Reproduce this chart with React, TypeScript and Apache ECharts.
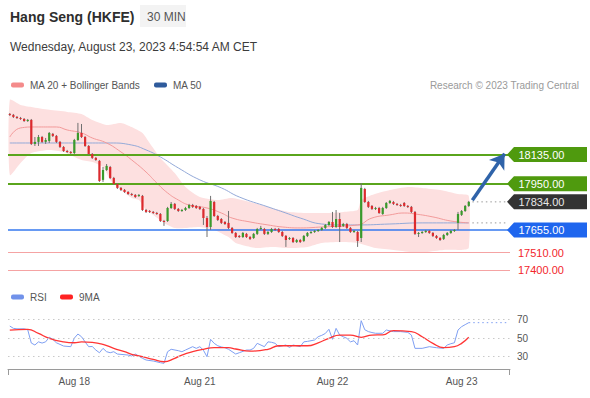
import React, { useEffect, useRef } from 'react';
import * as echarts from 'echarts';

const FONT = "'Liberation Sans', Arial, sans-serif";

// ---- x slots (30-minute bars) ----
const slotCount = 140;
const dayLabelIdx = [18, 53, 90, 126];
const dayLabelText = ['Aug 18', 'Aug 21', 'Aug 22', 'Aug 23'];

// ---- candles ----
const opens = [18394,18388,18375,18368,18362,18349,18356,18203,18216,18247,18216,18222,18267,18254,18216,18184,18158,18152,18145,18228,18273,18247,18190,18139,18114,18095,17974,18037,18056,17986,17948,17923,17910,17897,17884,17878,17872,17872,17782,17776,17770,17763,17757,17712,17712,17795,17821,17789,17776,17782,17795,17814,17808,17802,17789,17731,17674,17833,17744,17725,17706,17700,17668,17636,17617,17610,17630,17610,17604,17630,17661,17661,17630,17642,17661,17661,17642,17617,17598,17604,17578,17591,17585,17617,17636,17642,17649,17655,17668,17687,17706,17674,17725,17681,17693,17668,17642,17642,17604,17916,17833,17808,17789,17795,17757,17795,17827,17833,17821,17814,17827,17808,17802,17770,17630,17636,17642,17649,17636,17617,17604,17598,17623,17636,17649,17700,17751,17776,17808];
const closes = [18388,18375,18368,18362,18349,18356,18203,18216,18247,18216,18228,18273,18254,18216,18184,18158,18152,18145,18228,18273,18247,18190,18139,18114,18101,17967,18037,18063,17986,17948,17923,17910,17897,17884,17878,17865,17878,17782,17770,17770,17763,17757,17712,17706,17795,17821,17789,17776,17782,17795,17814,17802,17795,17789,17731,17674,17840,17744,17719,17700,17693,17668,17636,17610,17610,17636,17610,17598,17630,17661,17668,17630,17642,17661,17655,17642,17617,17591,17604,17578,17591,17578,17617,17636,17642,17649,17655,17668,17687,17706,17674,17725,17674,17693,17668,17642,17649,17585,17923,17833,17802,17789,17795,17763,17795,17827,17840,17821,17814,17808,17808,17802,17770,17630,17636,17642,17649,17636,17617,17604,17591,17623,17636,17649,17655,17757,17776,17808,17834];
const highs = [18400,18394,18381,18375,18368,18362,18362,18247,18260,18254,18241,18279,18273,18260,18222,18190,18165,18158,18235,18337,18330,18254,18196,18145,18120,18101,18056,18075,18063,17993,17954,17929,17916,17903,17891,17884,17884,17878,17789,17782,17776,17770,17763,17719,17802,17833,17827,17795,17789,17802,17821,17821,17814,17808,17795,17744,17872,17840,17751,17731,17712,17776,17674,17642,17623,17642,17636,17617,17636,17668,17681,17668,17649,17668,17668,17668,17649,17623,17610,17610,17598,17598,17623,17642,17649,17655,17661,17674,17693,17712,17770,17782,17763,17700,17700,17674,17655,17649,17954,17923,17840,17814,17802,17802,17802,17833,17846,17840,17827,17821,17833,17814,17808,17776,17642,17649,17655,17655,17642,17623,17610,17630,17642,17655,17661,17770,17782,17814,17840];
const lows = [18381,18368,18362,18356,18343,18343,18196,18190,18190,18209,18203,18209,18247,18209,18177,18152,18145,18139,18139,18222,18241,18184,18133,18107,18095,17961,17961,18031,17980,17942,17916,17903,17891,17878,17872,17859,17865,17776,17763,17763,17757,17751,17706,17681,17706,17789,17782,17770,17770,17776,17789,17795,17789,17782,17687,17610,17655,17738,17712,17693,17687,17661,17630,17604,17604,17604,17604,17591,17598,17623,17655,17623,17623,17636,17649,17636,17610,17547,17591,17572,17572,17572,17578,17610,17630,17636,17642,17649,17661,17681,17668,17668,17578,17674,17661,17636,17636,17547,17578,17827,17795,17782,17782,17757,17751,17789,17821,17814,17808,17802,17802,17795,17763,17623,17610,17630,17636,17630,17610,17598,17585,17591,17617,17630,17642,17655,17744,17770,17802];

// ---- moving averages (read at sample bars) ----
const ma20Idx = [0,3,7,13,16,20,23,27,31,34,38,41,44,47,50,55,59,62,67,72,76,81,87,97,101,106,110,113,118,123,128];
const ma20Val = [18247,18305,18311,18311,18292,18273,18241,18209,18152,18101,18024,17954,17891,17846,17814,17795,17763,17731,17706,17687,17674,17668,17674,17687,17731,17751,17763,17757,17738,17712,17700];
const ma50Idx = [0,14,28,34,38,42,47,53,59,64,72,77,81,87,92,97,106,115,125,128];
const ma50Val = [18209,18209,18209,18196,18165,18120,18050,17974,17923,17865,17802,17763,17731,17693,17687,17687,17693,17700,17700,17700];

// ---- Bollinger bands ----
const bbUpIdx = [0,3,6,11,16,20,23,27,31,34,37,39,42,46,49,53,58,62,68,73,78,83,88,93,97,98,101,106,111,115,120,125,128];
const bbUpVal = [18483,18451,18438,18420,18407,18394,18356,18324,18337,18311,18273,18209,18114,18018,17929,17865,17846,17859,17827,17795,17770,17763,17763,17770,17782,17846,17878,17910,17929,17923,17910,17884,17872];
const bbLoIdx = [0,3,6,11,15,20,23,26,28,31,34,36,38,40,43,46,49,53,57,61,63,67,69,73,78,83,87,92,97,102,107,112,116,121,126,128];
const bbLoVal = [18005,18082,18145,18165,18152,18101,18088,18056,17974,17910,17859,17846,17782,17751,17700,17668,17668,17674,17655,17610,17572,17547,17540,17547,17540,17547,17572,17578,17572,17540,17528,17515,17515,17528,17528,17540];

// ---- levels ----
const levelPrices = [18135, 17950, 17834, 17655, 17510, 17400];
const levelKinds = ['green', 'green', 'last', 'blue', 'red', 'red'];
const arrowFrom = [129, 17845];
const arrowTo = [138, 18140];

// ---- RSI ----
const rsiIdx = [0,1,2,4,5,6,7,8,9,10,11,12,13,15,17,18,19,20,21,22,23,24,25,26,27,28,29,30,33,34,35,37,38,40,42,43,44,45,47,48,49,51,52,53,54,55,56,57,58,59,60,61,63,64,66,67,68,69,71,72,73,74,75,77,78,79,81,82,83,84,85,86,87,88,89,90,91,92,93,94,95,96,97,98,99,100,101,102,104,105,107,109,111,112,113,115,117,119,121,122,123,124,125,126,127,128];
const rsiVal = [63,60.5,60,60,59,44.7,42.6,46,44.7,46,51,48.7,45,41.5,40.8,50,54.4,51.5,46,40.8,41,37.2,34.3,39,35.4,34.3,35.4,32.9,31.8,30.8,32.9,28.3,26.5,25.4,23.6,22.9,35.4,38,36.5,35.4,37.2,40.8,39,40.8,37,30,48.7,44.4,41.8,40.5,39.7,38,32.9,34.3,37.2,37.2,39,44.4,40.8,46,45.5,44.4,40.8,42.6,40,42.6,40.8,46,46.5,47.2,48,51.5,53,55,59.5,48.7,60.5,53.3,51.5,49.8,46,47.2,42.6,68.7,59,57,56,55.2,55.2,58.7,57,57,56.2,53.3,39,39,40.8,39.7,39,42.6,44,45,58.7,62.3,64.5,66.6];
const rsiMaIdx = [0,5,8,11,15,18,20,23,26,29,32,34,37,40,43,46,48,51,54,57,61,63,67,72,75,79,83,86,89,92,95,98,101,104,107,112,115,118,121,124,126,128];
const rsiMaVal = [58.7,59.5,55,49.8,46,45,46,45.5,43.3,39,35.4,32.6,30,27.2,24.6,28.3,31.8,35.4,38,39.7,39.7,38.3,36,38,41.8,41.8,41.8,45,49.8,53.3,53.3,50.9,53.3,53.5,58,57,51.5,44.4,39.7,40.8,44.4,50.9];
const rsiLevels = [70, 50, 30];

const GREEN = '#3a9a2c';
const RED = '#dc2a2e';

function pairs(idx: number[], val: number[]) {
  return idx.map((x, k) => [x, val[k]]);
}

function buildOption(): any {
  const categories = Array.from({ length: slotCount }, (_, i) => String(i));
  const candleData = opens.map((o, i) => [i, o, closes[i], lows[i], highs[i]]);
  const last = candleData.length - 1;
  const lastMa = ma50Val[ma50Val.length - 1];
  const lastRsi = rsiVal[rsiVal.length - 1];

  const tagColors: Record<string, [string, string]> = {
    green: ['#4f9a0e', '#ffffff'],
    last: ['#333333', '#e8e8e8'],
    blue: ['#1f66ee', '#ffffff'],
  };
  const lineColors: Record<string, [string, number]> = {
    green: ['#5aa51c', 2],
    blue: ['#3478ef', 1.5],
    red: ['#f5a3a3', 1],
  };

  const legendText = (x: number, y: number, text: string, fill: string, extra: any = {}) => ({
    type: 'text', x, y,
    style: { text, fill, fontSize: 10, fontFamily: FONT, verticalAlign: 'middle', ...extra },
  });
  const swatch = (x: number, y: number, fill: string) => ({
    type: 'rect', shape: { x, y: y - 2.5, width: 13, height: 5, r: 2 }, style: { fill },
  });

  return {
    animation: false,
    backgroundColor: '#ffffff',
    textStyle: { fontFamily: FONT },
    grid: [
      { left: 8, right: 80, top: 97.3, height: 188.4 },
      { left: 8, right: 80, top: 310.2, height: 59.1 },
    ],
    xAxis: [
      { type: 'category', gridIndex: 0, data: categories, show: false },
      {
        type: 'category', gridIndex: 1, data: categories,
        axisLine: { lineStyle: { color: '#9a9a9a', width: 1 } },
        axisTick: { show: false },
        axisLabel: {
          color: '#555', fontSize: 10, fontFamily: FONT, margin: 7,
          interval: (i: number) => dayLabelIdx.includes(i),
          formatter: (_v: string, i: number) => {
            const k = dayLabelIdx.indexOf(i);
            return k >= 0 ? dayLabelText[k] : '';
          },
        },
      },
    ],
    yAxis: [
      { type: 'value', gridIndex: 0, min: 17300, max: 18500, show: false, splitLine: { show: false } },
      { type: 'value', gridIndex: 1, min: 16.5, max: 80, show: false, splitLine: { show: false } },
    ],
    graphic: [
      { type: 'text', x: 10, y: 17, style: { text: 'Hang Seng (HKFE)', fill: '#2e2e2e', fontSize: 14, fontWeight: 'bold', fontFamily: FONT, verticalAlign: 'middle' } },
      { type: 'rect', shape: { x: 140, y: 5, width: 46, height: 22 }, style: { fill: '#f3f3f3' } },
      { type: 'text', x: 147, y: 16.5, style: { text: '30 MIN', fill: '#555', fontSize: 12, fontFamily: FONT, verticalAlign: 'middle' } },
      { type: 'text', x: 10, y: 46.5, style: { text: 'Wednesday, August 23, 2023 4:54:54 AM CET', fill: '#3c3c3c', fontSize: 12, fontFamily: FONT, verticalAlign: 'middle' } },
      swatch(11, 85, '#f48b8b'),
      legendText(30, 85, 'MA 20 + Bollinger Bands', '#555'),
      swatch(154, 85, '#2f5b9c'),
      legendText(173, 85, 'MA 50', '#555'),
      legendText(579, 85, 'Research © 2023 Trading Central', '#9a9a9a', { align: 'right' }),
      swatch(11, 297, '#7192ea'),
      legendText(30, 297, 'RSI', '#555'),
      swatch(60, 297, '#ff2222'),
      legendText(79, 297, '9MA', '#555'),
      { type: 'line', shape: { x1: 8.5, y1: 369.3, x2: 8.5, y2: 375 }, style: { stroke: '#9a9a9a', lineWidth: 1 } },
      { type: 'line', shape: { x1: 509.5, y1: 369.3, x2: 509.5, y2: 375 }, style: { stroke: '#9a9a9a', lineWidth: 1 } },
    ],
    series: [
      {
        name: 'BB', type: 'custom', xAxisIndex: 0, yAxisIndex: 0, z: 1, silent: true,
        data: [[bbUpIdx[0], bbUpVal[0]]], encode: { x: 0, y: 1 },
        renderItem: (_p: any, api: any) => {
          const up = bbUpIdx.map((x, k) => api.coord([x, bbUpVal[k]]));
          const lo = bbLoIdx.map((x, k) => api.coord([x, bbLoVal[k]])).reverse();
          return { type: 'polygon', shape: { points: up.concat(lo), smooth: 0.2 }, style: { fill: '#fde0e0' } };
        },
      },
      {
        name: 'MA 50', type: 'line', xAxisIndex: 0, yAxisIndex: 0, z: 2, smooth: true, showSymbol: false, silent: true,
        data: pairs(ma50Idx, ma50Val), lineStyle: { color: '#93a9d8', width: 1 },
        markLine: {
          silent: true, symbol: ['none', 'none'], label: { show: false },
          data: levelPrices.map((p, k) => levelKinds[k] === 'last' ? null : ({
            yAxis: p,
            lineStyle: { color: lineColors[levelKinds[k]][0], width: lineColors[levelKinds[k]][1], type: 'solid' },
          })).filter(Boolean),
        },
      },
      {
        name: 'MA 20', type: 'line', xAxisIndex: 0, yAxisIndex: 0, z: 2, smooth: true, showSymbol: false, silent: true,
        data: pairs(ma20Idx, ma20Val), lineStyle: { color: '#f29a9a', width: 1 },
      },
      {
        name: 'maDot', type: 'line', xAxisIndex: 0, yAxisIndex: 0, z: 2, showSymbol: false, silent: true,
        data: [[last + 1, lastMa], [slotCount - 1, lastMa]], lineStyle: { color: '#9a9a9a', width: 1, type: [1.5, 3] },
      },
      {
        name: 'lastDot', type: 'line', xAxisIndex: 0, yAxisIndex: 0, z: 2, showSymbol: false, silent: true,
        data: [[last + 1, closes[last]], [slotCount - 1, closes[last]]], lineStyle: { color: '#9a9a9a', width: 1, type: [1.5, 3] },
      },
      {
        name: 'candles', type: 'custom', xAxisIndex: 0, yAxisIndex: 0, z: 5, silent: true,
        data: candleData, encode: { x: 0, y: [1, 2, 3, 4] },
        renderItem: (_p: any, api: any) => {
          const i = api.value(0), o = api.value(1), c = api.value(2), l = api.value(3), h = api.value(4);
          const po = api.coord([i, o]);
          const pc = api.coord([i, c]);
          const pl = api.coord([i, l]);
          const ph = api.coord([i, h]);
          const w = api.size([1, 0])[0] * 0.62;
          const top = Math.min(po[1], pc[1]);
          const hgt = Math.max(Math.abs(po[1] - pc[1]), 1);
          return {
            type: 'group',
            children: [
              { type: 'line', shape: { x1: po[0], y1: ph[1], x2: po[0], y2: pl[1] }, style: { stroke: '#707070', lineWidth: 1 } },
              { type: 'rect', shape: { x: po[0] - w / 2, y: top, width: w, height: hgt }, style: { fill: c >= o ? GREEN : RED } },
            ],
          };
        },
        markLine: {
          silent: true, symbol: ['none', 'arrow'], symbolSize: 14, label: { show: false },
          lineStyle: { color: '#2f63a9', width: 3.5, type: 'solid' },
          data: [[{ coord: arrowFrom }, { coord: arrowTo }]],
        },
      },
      {
        name: 'tags', type: 'custom', xAxisIndex: 0, yAxisIndex: 0, z: 10, silent: true,
        data: levelPrices.map((p) => [slotCount - 1, p]), encode: { x: 0, y: 1 },
        renderItem: (params: any, api: any) => {
          const k = params.dataIndex;
          const y = api.coord([api.value(0), api.value(1)])[1];
          const cs = params.coordSys;
          const tip = cs.x + cs.width - 3;
          const kind = levelKinds[k];
          const text = levelPrices[k].toFixed(2);
          if (kind === 'red') {
            return { type: 'text', x: tip + 11, y, style: { text, fill: '#f2262b', fontSize: 11, fontFamily: FONT, verticalAlign: 'middle' } };
          }
          const [bg, fg] = tagColors[kind];
          return {
            type: 'group',
            children: [
              { type: 'polygon', shape: { points: [[tip, y], [tip + 7, y - 7.5], [tip + 80, y - 7.5], [tip + 80, y + 7.5], [tip + 7, y + 7.5]] }, style: { fill: bg } },
              { type: 'text', x: tip + 11.5, y, style: { text, fill: fg, fontSize: 11, fontFamily: FONT, verticalAlign: 'middle' } },
            ],
          };
        },
      },
      {
        name: 'RSI', type: 'line', xAxisIndex: 1, yAxisIndex: 1, z: 3, showSymbol: false, silent: true,
        data: pairs(rsiIdx, rsiVal), lineStyle: { color: '#7f9ff2', width: 1 },
        markLine: {
          silent: true, symbol: ['none', 'none'],
          lineStyle: { color: '#c9c9c9', width: 1, type: [1.5, 3.5] },
          label: { show: true, position: 'end', formatter: '{c}', color: '#555', fontSize: 10, fontFamily: FONT, distance: 7 },
          data: rsiLevels.map((v) => ({ yAxis: v })),
        },
      },
      {
        name: 'rsiDot', type: 'line', xAxisIndex: 1, yAxisIndex: 1, z: 3, showSymbol: false, silent: true,
        data: [[rsiIdx[rsiIdx.length - 1], lastRsi], [slotCount - 1, lastRsi]], lineStyle: { color: '#7f9ff2', width: 1, type: [1.5, 3] },
      },
      {
        name: '9MA', type: 'line', xAxisIndex: 1, yAxisIndex: 1, z: 4, smooth: true, showSymbol: false, silent: true,
        data: pairs(rsiMaIdx, rsiMaVal), lineStyle: { color: '#ff3535', width: 1.3 },
      },
    ],
  };
}

export default function App() {
  const ref = useRef<HTMLDivElement>(null);
  useEffect(() => {
    const chart = echarts.init(ref.current!, null, { renderer: 'svg' });
    chart.setOption(buildOption());
    return () => chart.dispose();
  }, []);
  return (
    <div style={{ position: 'fixed', left: 0, top: 0, width: 590, height: 398, background: '#fff' }}>
      <div ref={ref} style={{ width: 590, height: 398 }} />
    </div>
  );
}
